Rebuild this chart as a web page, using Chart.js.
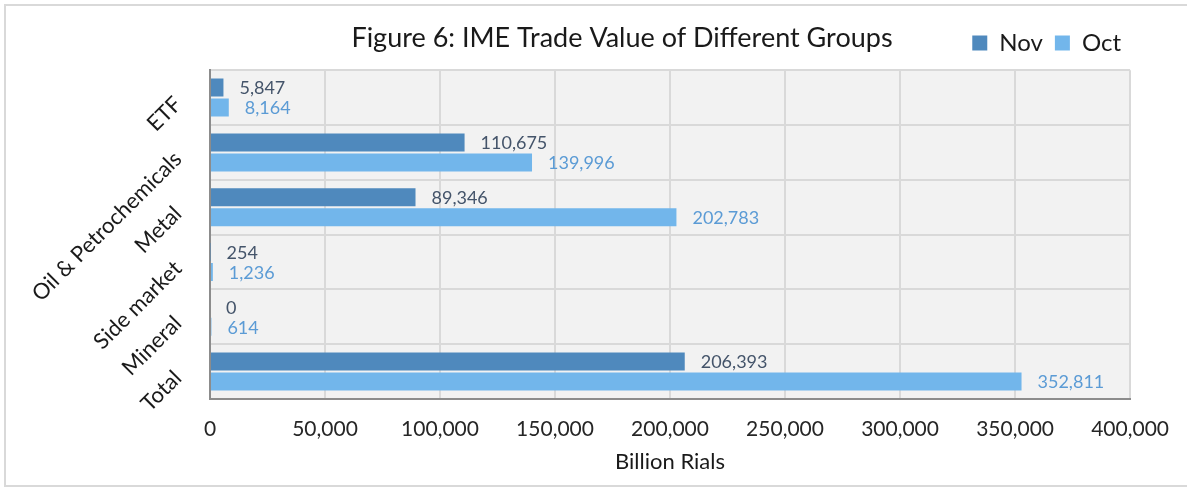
<!DOCTYPE html>
<html>
<head>
<meta charset="utf-8">
<title>IME Trade Value of Different Groups</title>
<script src="https://cdn.jsdelivr.net/npm/chart.js@4/dist/chart.umd.min.js"></script>
<style>
  html, body { margin: 0; padding: 0; background: #fff; }
  #wrap { position: relative; width: 1187px; height: 488px; }
  #frame {
    position: absolute; left: 4px; top: 4px; right: -4px; bottom: 1px;
    border: 2px solid #d9d9d9; pointer-events: none;
  }
</style>
</head>
<body>
<div id="wrap">
  <canvas id="tradeChart"></canvas>
  <div id="frame"></div>
</div>
<script>
/* ================= DATA ================= */

const groups = ['ETF', 'Oil & Petrochemicals', 'Metal', 'Side market', 'Mineral', 'Total'];
const novValues = [5847, 110675, 89346, 254, 0, 206393];
const octValues = [8164, 139996, 202783, 1236, 614, 352811];
const xTicks = [0, 50000, 100000, 150000, 200000, 250000, 300000, 350000, 400000];

const FONT = 'Lato, "Open Sans", sans-serif';

/* ================= PLUGINS ================= */

// grey plot background
const plotBg = {
  id: 'plotBg',
  beforeDraw(chart) {
    const { ctx, chartArea: a } = chart;
    ctx.save();
    ctx.fillStyle = '#f2f2f2';
    ctx.fillRect(a.left, a.top, a.right - a.left, a.bottom - a.top);
    ctx.restore();
  }
};

// value labels at the end of each bar
const barLabels = {
  id: 'barLabels',
  afterDatasetsDraw(chart) {
    const ctx = chart.ctx;
    ctx.save();
    ctx.font = '18px ' + FONT;
    ctx.textAlign = 'left';
    ctx.textBaseline = 'middle';
    chart.data.datasets.forEach((ds, i) => {
      const meta = chart.getDatasetMeta(i);
      ctx.fillStyle = ds.labelColor;
      meta.data.forEach((bar, j) => {
        ctx.fillText(ds.data[j].toLocaleString('en-US'), bar.x + 16, bar.y + 1);
      });
    });
    ctx.restore();
  }
};

// title drawn a bit left of the plot centre, like the original
const figTitle = {
  id: 'figTitle',
  afterDraw(chart) {
    const ctx = chart.ctx;
    ctx.save();
    ctx.font = '27px ' + FONT;
    ctx.fillStyle = '#1a1a1a';
    ctx.textAlign = 'center';
    ctx.textBaseline = 'middle';
    ctx.fillText('Figure 6: IME Trade Value of Different Groups', 622, 38);
    ctx.restore();
  }
};

/* ================= CHART ================= */

new Chart(document.getElementById('tradeChart'), {
  type: 'bar',
  data: {
    labels: groups,
    datasets: [
      {
        label: 'Nov',
        data: novValues,
        backgroundColor: '#4f89bd',
        labelColor: '#44546a',
        categoryPercentage: 0.73,
        barPercentage: 0.9
      },
      {
        label: 'Oct',
        data: octValues,
        backgroundColor: '#72b6eb',
        labelColor: '#5b9bd5',
        categoryPercentage: 0.73,
        barPercentage: 0.9
      }
    ]
  },
  plugins: [plotBg, barLabels, figTitle],
  options: {
    indexAxis: 'y',
    responsive: true,
    maintainAspectRatio: false,
    animation: false,
    layout: { padding: { left: 0, right: 54, top: 19, bottom: 0 } },
    plugins: {
      title: { display: false },
      // empty subtitle used only as a small gap between legend and plot
      subtitle: {
        display: true,
        text: '',
        weight: 500,
        font: { size: 1 },
        padding: { top: 4, bottom: 0 }
      },
      tooltip: { enabled: false },
      legend: {
        position: 'top',
        align: 'end',
        labels: {
          boxWidth: 15,
          boxHeight: 15,
          padding: 12,
          color: '#1a1a1a',
          font: { family: FONT, size: 24 }
        }
      }
    },
    scales: {
      x: {
        min: 0,
        max: 400000,
        afterBuildTicks(scale) {
          scale.ticks = xTicks.map(v => ({ value: v }));
        },
        afterFit(scale) { scale.height = 89; },
        ticks: {
          color: '#262626',
          padding: 18,
          font: { family: FONT, size: 21 },
          callback: v => v.toLocaleString('en-US')
        },
        grid: { color: '#d9d9d9', lineWidth: 2, drawTicks: false },
        border: { color: '#8c8c8c', width: 2 },
        title: {
          display: true,
          text: 'Billion Rials',
          color: '#1a1a1a',
          font: { family: FONT, size: 22 },
          padding: { top: 0, bottom: 13 }
        }
      },
      y: {
        afterFit(scale) { scale.width = 210; },
        ticks: {
          autoSkip: false,
          minRotation: 45,
          maxRotation: 45,
          padding: 32,
          labelOffset: 3,
          color: '#1a1a1a',
          font: { family: FONT, size: 22 }
        },
        grid: { color: '#d9d9d9', lineWidth: 2, drawTicks: false, offset: true },
        border: { color: '#8c8c8c', width: 2 }
      }
    }
  }
});
</script>
</body>
</html>
